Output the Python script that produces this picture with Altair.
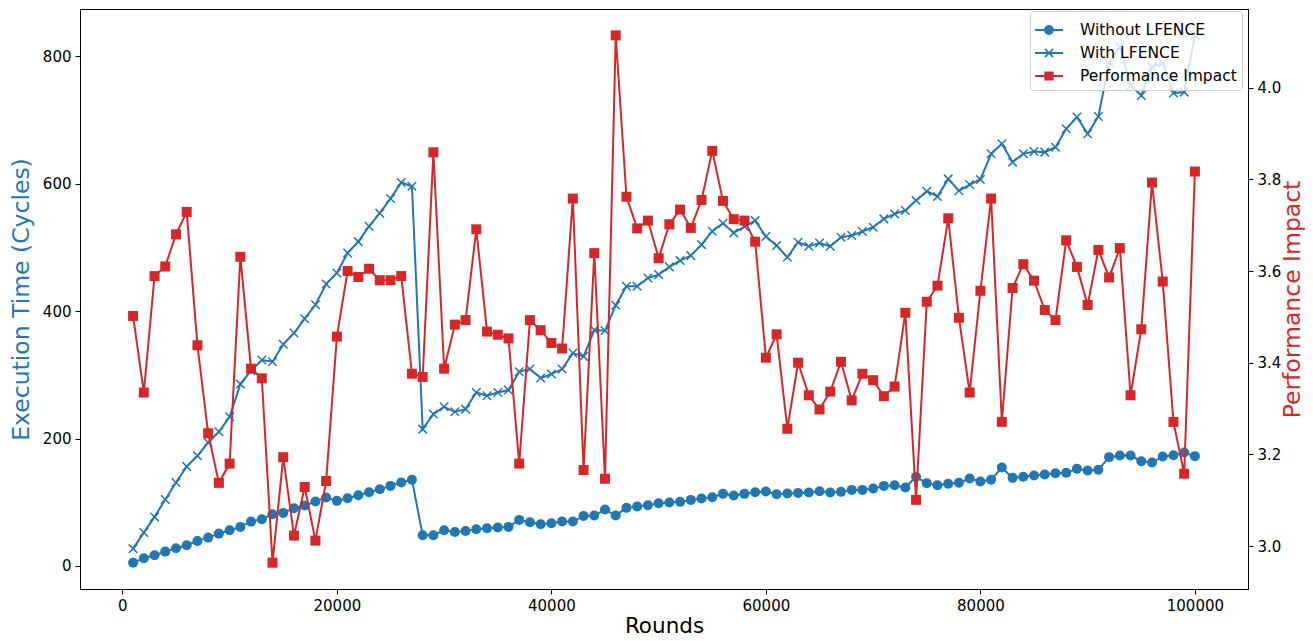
import altair as alt
import pandas as pd

rounds = list(range(1000, 100001, 1000))

without_lfence = [
    5.2, 12.1, 16.8, 22.5, 27.8, 32.5, 39.3, 44.5, 50.8, 56.1,
    61.3, 69.6, 73.4, 81.2, 83.3, 90.6, 94.8, 101.1, 107.4, 102.2,
    106.4, 111.1, 115.8, 120.5, 125.7, 131.0, 135.2, 48.2, 48.2, 56.1,
    53.4, 55.0, 57.6, 59.2, 60.3, 61.3, 72.3, 68.6, 65.5, 67.1,
    69.7, 69.7, 78.6, 79.1, 88.5, 79.1, 91.2, 93.3, 95.3, 98.5,
    99.6, 100.6, 103.7, 105.8, 107.9, 113.2, 110.5, 113.2, 115.8, 116.8,
    112.7, 113.7, 114.7, 115.3, 117.4, 115.3, 116.3, 119.4, 119.4, 121.5,
    125.7, 126.8, 123.1, 139.9, 129.9, 126.8, 129.0, 130.5, 137.3, 132.5,
    135.2, 154.6, 138.3, 139.9, 142.0, 143.6, 145.6, 146.2, 152.5, 149.9,
    150.9, 170.8, 173.4, 173.4, 164.5, 162.4, 171.9, 173.9, 178.1, 172.4,
]

with_lfence = [
    27.2, 52.4, 77.0, 104.2, 131.0, 156.1, 172.9, 193.8, 210.6, 234.2,
    285.5, 306.5, 323.2, 320.6, 347.9, 365.7, 388.2, 410.0, 442.7, 460.0,
    491.4, 509.2, 533.3, 553.8, 576.8, 602.0, 596.2, 214.8, 238.4, 249.9,
    242.0, 246.2, 272.4, 267.2, 272.4, 276.1, 304.9, 309.1, 295.0, 301.2,
    309.1, 334.2, 329.0, 370.4, 369.4, 409.4, 439.0, 439.0, 452.1, 457.4,
    469.5, 479.4, 487.2, 504.5, 525.5, 538.0, 522.9, 532.8, 542.2, 517.1,
    503.0, 484.6, 508.2, 501.9, 507.1, 501.9, 516.0, 518.7, 525.0, 531.8,
    544.9, 552.7, 558.0, 573.7, 588.4, 580.0, 607.7, 589.0, 598.8, 606.7,
    647.0, 662.7, 634.0, 647.0, 650.7, 649.7, 657.5, 686.3, 704.7, 678.4,
    705.7, 790.0, 815.0, 754.4, 738.7, 783.2, 789.5, 742.4, 743.9, 833.0,
]

perf_impact = [
    3.502, 3.335, 3.589, 3.610, 3.680, 3.729, 3.438, 3.246, 3.138, 3.180,
    3.631, 3.387, 3.366, 2.964, 3.194, 3.023, 3.129, 3.012, 3.142, 3.457,
    3.600, 3.587, 3.605, 3.580, 3.580, 3.589, 3.376, 3.369, 3.859, 3.387,
    3.483, 3.493, 3.691, 3.468, 3.461, 3.453, 3.180, 3.493, 3.471, 3.443,
    3.431, 3.758, 3.166, 3.639, 3.147, 4.114, 3.762, 3.693, 3.710, 3.628,
    3.702, 3.734, 3.694, 3.755, 3.862, 3.753, 3.713, 3.710, 3.664, 3.411,
    3.462, 3.256, 3.400, 3.329, 3.298, 3.337, 3.402, 3.318, 3.376, 3.362,
    3.327, 3.348, 3.509, 3.101, 3.533, 3.568, 3.715, 3.498, 3.335, 3.557,
    3.758, 3.271, 3.563, 3.615, 3.579, 3.515, 3.493, 3.667, 3.609, 3.526,
    3.646, 3.586, 3.650, 3.329, 3.473, 3.793, 3.577, 3.271, 3.158, 3.817,
]

series_names = ["Without LFENCE", "With LFENCE", "Performance Impact"]
series_colors = ["#1f77b4", "#1f77b4", "#d62728"]

x_ticks = [0, 20000, 40000, 60000, 80000, 100000]
left_ticks = [0, 200, 400, 600, 800]
right_ticks = [3.0, 3.2, 3.4, 3.6, 3.8, 4.0]

BLUE = "#1f77b4"
RED = "#d62728"
FONT = "DejaVu Sans"

# legend symbols: a line segment with a marker (filled shapes, same winding)
legend_paths = [
    "M-1,-0.075V0.075H1V-0.075Z"
    "M0.35,0A0.35,0.35 0 1 0 -0.35,0A0.35,0.35 0 1 0 0.35,0Z",
    "M-1,-0.075V0.075H1V-0.075Z"
    "M-0.332,-0.248L0.248,0.332L0.332,0.248L-0.248,-0.332Z"
    "M-0.248,0.332L0.332,-0.248L0.248,-0.332L-0.332,0.248Z",
    "M-1,-0.075V0.075H1V-0.075Z"
    "M-0.33,-0.33V0.33H0.33V-0.33Z",
]
X_MARK = "M-1,-1L1,1M-1,1L1,-1"

df = pd.DataFrame({
    "Rounds": rounds,
    "without": without_lfence,
    "with": with_lfence,
    "perf": perf_impact,
})

# matplotlib-like autoscale margins (5%)
lmin, lmax = min(without_lfence + with_lfence), max(without_lfence + with_lfence)
lpad = 0.05 * (lmax - lmin)
rmin, rmax = min(perf_impact), max(perf_impact)
rpad = 0.05 * (rmax - rmin)
xpad = 0.05 * (rounds[-1] - rounds[0])

x_enc = alt.X(
    "Rounds:Q",
    scale=alt.Scale(domain=[rounds[0] - xpad, rounds[-1] + xpad], nice=False, zero=False),
    axis=alt.Axis(values=x_ticks, format="d", title="Rounds", grid=False,
                  titlePadding=2, titleFontSize=21.5),
)

left_scale = alt.Scale(domain=[lmin - lpad, lmax + lpad], nice=False, zero=False)
left_axis = alt.Axis(
    title="Execution Time (Cycles)", titleColor=BLUE, values=left_ticks,
    orient="left", grid=False, titlePadding=9, titleFontSize=23.5,
)
right_scale = alt.Scale(domain=[rmin - rpad, rmax + rpad], nice=False, zero=False)
right_axis = alt.Axis(
    title="Performance Impact", titleColor=RED, values=right_ticks, format=".1f",
    orient="right", grid=False, titleAngle=270, titlePadding=24, titleFontSize=23.5,
)

base = alt.Chart(df)

line_without = base.mark_line(color=BLUE, strokeWidth=2).encode(
    x=x_enc, y=alt.Y("without:Q", scale=left_scale, axis=left_axis))
pts_without = base.mark_point(shape="circle", filled=True, size=100, color=BLUE, opacity=1).encode(
    x=x_enc, y=alt.Y("without:Q", scale=left_scale, axis=left_axis))
line_with = base.mark_line(color=BLUE, strokeWidth=2).encode(
    x=x_enc, y=alt.Y("with:Q", scale=left_scale, axis=left_axis))
pts_with = base.mark_point(shape=X_MARK, filled=False, size=72, color=BLUE, opacity=1,
                           strokeWidth=1.5).encode(
    x=x_enc, y=alt.Y("with:Q", scale=left_scale, axis=left_axis))

legend = alt.Legend(
    title=None, orient="none", legendX=950, legendY=2,
    symbolSize=784, symbolStrokeWidth=0,
    labelFont=FONT, labelFontSize=15.5, labelColor="black", labelOffset=17,
    fillColor="rgba(255,255,255,0.8)", strokeColor="#cccccc", cornerRadius=3,
    padding=5, rowPadding=0,
)
legend_layer = base.transform_filter("false").mark_point(filled=True, opacity=1, size=784).encode(
    color=alt.Color("series:N", scale=alt.Scale(domain=series_names, range=series_colors), legend=legend),
    shape=alt.Shape("series:N", scale=alt.Scale(domain=series_names, range=legend_paths), legend=legend),
)

left = alt.layer(line_without, pts_without, line_with, pts_with, legend_layer)

line_perf = base.mark_line(color=RED, strokeWidth=2).encode(
    x=x_enc, y=alt.Y("perf:Q", scale=right_scale, axis=right_axis))
pts_perf = base.mark_point(shape="square", filled=True, size=100, color=RED, opacity=1).encode(
    x=x_enc, y=alt.Y("perf:Q", scale=right_scale, axis=right_axis))
right = alt.layer(line_perf, pts_perf)

chart = alt.layer(left, right).resolve_scale(y="independent").properties(
    width=1168, height=580,
    autosize=alt.AutoSizeParams(type="none"),
    padding={"left": 72, "top": 1, "right": 57, "bottom": 50},
).configure_view(
    stroke="black", strokeWidth=1,
).configure_axis(
    labelFont=FONT, labelFontSize=15, labelColor="black",
    titleFont=FONT, titleFontWeight="normal",
    domainColor="black", tickColor="black", domainWidth=1, tickWidth=1,
    tickSize=5, labelPadding=4,
)

chart.save("out.html", embed_options={"renderer": "svg", "actions": False})
